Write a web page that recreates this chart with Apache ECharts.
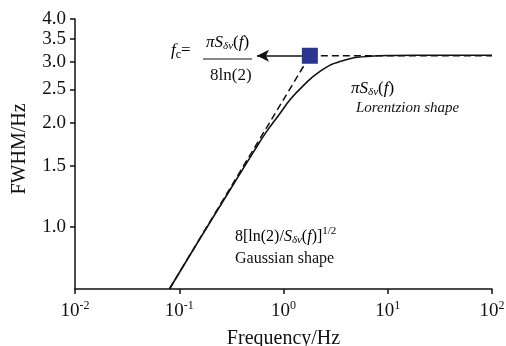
<!DOCTYPE html>
<html>
<head>
<meta charset="utf-8">
<script src="https://cdn.jsdelivr.net/npm/echarts@6/dist/echarts.min.js"></script>
<style>
  html, body { margin: 0; padding: 0; background: #fff; }
  #chart { width: 506px; height: 346px; }
</style>
</head>
<body>
<div id="chart"></div>
<script>
const xTicks = [0.01, 0.1, 1, 10, 100]
const yTicks = [1.0, 1.5, 2.0, 2.5, 3.0, 3.5, 4.0]

// Voigt-type FWHM curve (solid)
const freq = [0.0805, 0.15, 0.3, 0.514, 0.69, 0.925, 1.15, 1.5, 2.24, 3.48, 6.27, 11.2, 30, 100]
const fwhm = [0.66, 0.9, 1.265, 1.645, 1.89, 2.13, 2.33, 2.54, 2.82, 3.01, 3.115, 3.136, 3.14, 3.14]

// asymptotes (dashed)
const gaussFreq = [0.0805, 1.79]
const gaussFwhm = [0.66, 3.13]
const lorentzFreq = [1.79, 100]
const lorentzFwhm = [3.13, 3.13]

const corner = [1.79, 3.13]
const arrowFrom = [1.5, 3.13]
const arrowTo = [0.557, 3.13]

const serif = '"Liberation Serif", "Times New Roman", serif'

const chart = echarts.init(document.getElementById('chart'))

const pair = (xs, ys) => xs.map((x, i) => [x, ys[i]])

const subStyle = { fontFamily: serif, fontSize: 11, fontStyle: 'italic', padding: [8, 0, 0, 0] }
const supStyle = { fontFamily: serif, fontSize: 11, padding: [0, 0, 10, 0] }
const itStyle = { fontFamily: serif, fontSize: 17, fontStyle: 'italic' }
const upStyle = { fontFamily: serif, fontSize: 17 }

chart.setOption({
  animation: false,
  backgroundColor: '#fff',
  grid: { left: 75, right: 14, top: 19, bottom: 57, outerBoundsMode: 'none' },
  xAxis: {
    type: 'log',
    min: 0.01,
    max: 100,
    name: 'Frequency/Hz',
    nameLocation: 'middle',
    nameGap: 40,
    nameTextStyle: { fontFamily: serif, fontSize: 20, color: '#111' },
    axisLine: { lineStyle: { color: '#111', width: 1.5 } },
    axisTick: { length: 5, lineStyle: { color: '#111', width: 1.5 }, customValues: xTicks },
    axisLabel: {
      customValues: xTicks,
      margin: 11,
      formatter: v => '{b|10}{s|' + Math.round(Math.log10(v)) + '}',
      rich: {
        b: { fontFamily: serif, fontSize: 19, color: '#111' },
        s: { fontFamily: serif, fontSize: 12, color: '#111', padding: [0, 0, 10, 0] }
      }
    },
    splitLine: { show: false }
  },
  yAxis: {
    type: 'log',
    min: 0.66,
    max: 4,
    name: 'FWHM/Hz',
    nameLocation: 'middle',
    nameGap: 45,
    nameTextStyle: { fontFamily: serif, fontSize: 20, color: '#111', padding: [0, 0, 0, 10] },
    axisLine: { lineStyle: { color: '#111', width: 1.5 } },
    axisTick: { length: 5, lineStyle: { color: '#111', width: 1.5 }, customValues: yTicks },
    axisLabel: {
      customValues: yTicks,
      margin: 9,
      fontFamily: serif,
      fontSize: 19,
      color: '#111',
      formatter: v => Number(v).toFixed(1)
    },
    splitLine: { show: false }
  },
  series: [
    {
      name: 'gaussian',
      type: 'line',
      data: pair(gaussFreq, gaussFwhm),
      showSymbol: false,
      lineStyle: { color: '#111', width: 1.5, type: [7, 4] }
    },
    {
      name: 'lorentz',
      type: 'line',
      data: pair(lorentzFreq, lorentzFwhm),
      showSymbol: false,
      lineStyle: { color: '#111', width: 1.5, type: [7, 4] }
    },
    {
      name: 'fwhm',
      type: 'line',
      data: pair(freq, fwhm),
      smooth: 0.5,
      showSymbol: false,
      lineStyle: { color: '#111', width: 1.6 },
      markLine: {
        silent: true,
        symbol: ['none', 'arrow'],
        symbolSize: [9, 12],
        label: { show: false },
        lineStyle: { color: '#111', width: 1.5, type: 'solid' },
        data: [[{ coord: arrowFrom }, { coord: arrowTo }]]
      }
    },
    {
      name: 'corner',
      type: 'scatter',
      data: [corner],
      symbol: 'rect',
      symbolSize: 16,
      itemStyle: { color: '#2b3590', opacity: 1 },
      z: 5
    }
  ],
  graphic: [
    {
      type: 'text', left: 171, top: 42,
      style: {
        text: '{i|f}{sub|c}{n|=}',
        rich: { i: itStyle, sub: { ...subStyle, fontStyle: 'normal', fontSize: 12 }, n: upStyle }
      }
    },
    {
      type: 'text', left: 206, top: 34,
      style: {
        text: '{i|πS}{sub|δν}{n|(}{i|f}{n|)}',
        rich: { i: itStyle, sub: subStyle, n: upStyle }
      }
    },
    {
      type: 'line',
      shape: { x1: 203, y1: 59, x2: 252, y2: 59 },
      style: { stroke: '#111', lineWidth: 1.2 }
    },
    {
      type: 'text', left: 210, top: 67,
      style: { text: '8ln(2)', font: '17px ' + serif, fill: '#111' }
    },
    {
      type: 'text', left: 351, top: 80,
      style: {
        text: '{i|πS}{sub|δν}{n|(}{i|f}{n|)}',
        rich: { i: itStyle, sub: subStyle, n: upStyle }
      }
    },
    {
      type: 'text', left: 356, top: 101,
      style: { text: 'Lorentzion shape', font: 'italic 15px ' + serif, fill: '#111' }
    },
    {
      type: 'text', left: 235, top: 226,
      style: {
        text: '{n|8[ln(2)/}{i|S}{sub|δν}{n|(}{i|f}{n|)]}{sup|1/2}',
        rich: {
          i: { ...itStyle, fontSize: 16 },
          n: { ...upStyle, fontSize: 16 },
          sub: subStyle,
          sup: supStyle
        }
      }
    },
    {
      type: 'text', left: 235, top: 251,
      style: { text: 'Gaussian shape', font: '16px ' + serif, fill: '#111' }
    }
  ]
})
</script>
</body>
</html>
